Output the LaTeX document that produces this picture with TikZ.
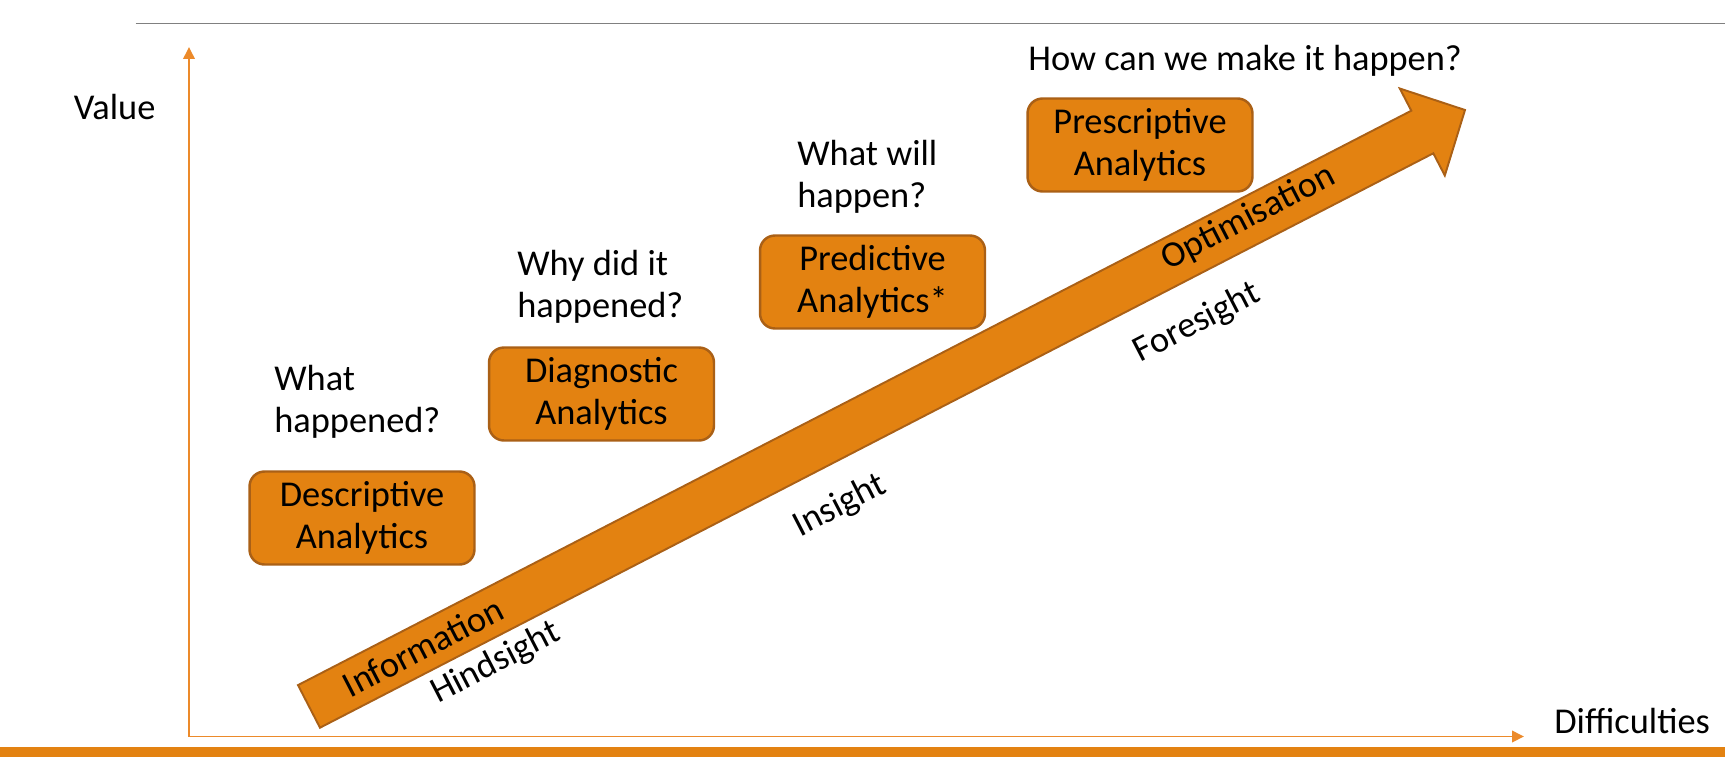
\documentclass[tikz,border=0pt]{standalone}
\usepackage{fontspec}
\setmainfont{Carlito}
\usetikzlibrary{arrows.meta}

\definecolor{anaorange}{RGB}{227,130,17}
\definecolor{anaborder}{RGB}{170,96,22}
\definecolor{axisorange}{RGB}{236,138,42}
\definecolor{rulegrey}{RGB}{128,128,128}

\begin{document}
\begin{tikzpicture}[x=0.02cm,y=-0.02cm,font=\fontsize{20.7}{23.9}\selectfont]
	\tikzstyle{box}      = [rectangle,rounded corners=0.3cm,draw=anaborder,line width=1.4pt,fill=anaorange,minimum width=4.5cm,minimum height=1.86cm,align=center,inner sep=0pt]
	\tikzstyle{question} = [align=left,anchor=base west,inner sep=0pt]
	\tikzstyle{slant}    = [rotate=27.3,inner sep=0pt]
	\tikzstyle{axis}     = [draw=axisorange,line width=1.1pt,-{Triangle[width=0.23cm,length=0.24cm]}]
	
	\useasboundingbox (0,0) rectangle (1725,757);
	
	% frame of the slide
	\draw[rulegrey,line width=0.8pt] (135.5,23.3) -- (1725,23.3);
	\fill[anaorange] (0,746.7) rectangle (1725,757);
	
	% axes
	\coordinate (origin) at (189,736.5);
	\coordinate (vtop) at (189,47);
	\coordinate (hend) at (1524,736.5);
	\draw[axis] (origin) -- (vtop);
	\draw[axis] (origin) -- (hend);
	\node[question] (value) at (73.5,119.3) {Value};
	\node[question] (diff) at (1554,733.3) {Difficulties};
	
	% big arrow
	\filldraw[fill=anaorange,draw=anaborder,line width=1.1pt,line join=miter]
		(298.0,685.1) -- (1411.3,110.7) -- (1399.8,88.5) -- (1465,110)
		-- (1444.8,175.5) -- (1433.3,153.3) -- (320.0,727.7) -- cycle;
	
	\node[slant] (info) at (423,647) {Information};
	\node[slant] (hind) at (496,663) {Hindsight};
	\node[slant] (ins)  at (840,506) {Insight};
	\node[slant] (fore) at (1197,323) {Foresight};
	\node[slant] (opt)  at (1248.7,218) {Optimisation};
	
	% analytics boxes
	\node[box] (desc)  at (362,518) {Descriptive\\Analytics};
	\node[box] (diag)  at (601.5,394) {Diagnostic\\Analytics};
	\node[box] (pred)  at (872.5,282) {Predictive\\Analytics*};
	\node[box] (presc) at (1140,145) {Prescriptive\\Analytics};
	
	\node[question] (whathap)  at (274,432) {What\\happened?};
	\node[question] (whydid)   at (517,317) {Why did it\\happened?};
	\node[question] (whatwill) at (797,207) {What will\\happen?};
	\node[question] (howcan)   at (1028,70.7) {How can we make it happen?};
\end{tikzpicture}
\end{document}
